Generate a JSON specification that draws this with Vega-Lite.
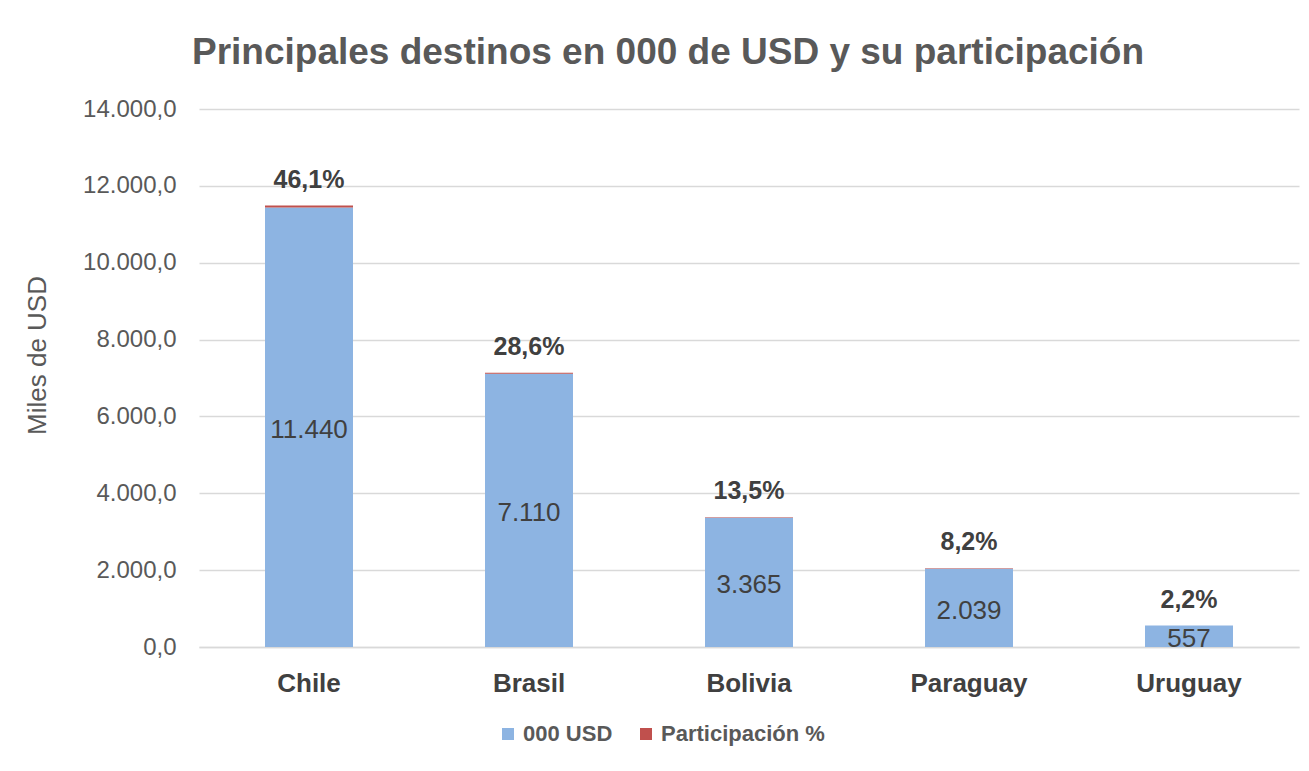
{
  "$schema": "https://vega.github.io/schema/vega-lite/v6.json",
  "width": 1100,
  "height": 538,
  "autosize": {"type": "none"},
  "padding": {"left": 199, "top": 109, "right": 10, "bottom": 124},
  "background": "white",
  "config": {
    "locale": {"number": {"decimal": ",", "thousands": ".", "grouping": [3], "currency": ["$", ""]}},
    "view": {"stroke": null},
    "font": "Liberation Sans"
  },
  "title": {
    "text": "Principales destinos en 000 de USD y su participación",
    "fontSize": 37,
    "fontWeight": "bold",
    "color": "#595959",
    "anchor": "middle",
    "dx": -81,
    "offset": 25
  },
  "data": {
    "values": [
      {"pais": "Chile", "serie": "000 USD", "valor": 11440},
      {"pais": "Chile", "serie": "Participación %", "valor": 46.1},
      {"pais": "Brasil", "serie": "000 USD", "valor": 7110},
      {"pais": "Brasil", "serie": "Participación %", "valor": 28.6},
      {"pais": "Bolivia", "serie": "000 USD", "valor": 3365},
      {"pais": "Bolivia", "serie": "Participación %", "valor": 13.5},
      {"pais": "Paraguay", "serie": "000 USD", "valor": 2039},
      {"pais": "Paraguay", "serie": "Participación %", "valor": 8.2},
      {"pais": "Uruguay", "serie": "000 USD", "valor": 557},
      {"pais": "Uruguay", "serie": "Participación %", "valor": 2.2}
    ]
  },
  "encoding": {
    "x": {
      "field": "pais",
      "type": "nominal",
      "sort": ["Chile", "Brasil", "Bolivia", "Paraguay", "Uruguay"],
      "scale": {"paddingInner": 0.6, "paddingOuter": 0.3},
      "axis": {
        "title": null,
        "labelAngle": 0,
        "labelFontSize": 26,
        "labelFontWeight": "bold",
        "labelColor": "#404040",
        "labelPadding": 23,
        "ticks": false,
        "tickSize": 0,
        "domainColor": "#d9d9d9",
        "domainWidth": 1.5
      }
    }
  },
  "layer": [
    {
      "mark": {"type": "bar"},
      "encoding": {
        "y": {
          "field": "valor",
          "type": "quantitative",
          "stack": "zero",
          "scale": {"domain": [0, 14000], "nice": false},
          "axis": {
            "title": "Miles de USD",
            "titleFontSize": 26,
            "titleFontWeight": "normal",
            "titleColor": "#595959",
            "titleX": -162,
            "titleY": 246,
            "titleAngle": -90,
            "titleBaseline": "middle",
            "titleAlign": "center",
            "values": [0, 2000, 4000, 6000, 8000, 10000, 12000, 14000],
            "format": ",.1f",
            "labelFontSize": 24,
            "labelColor": "#595959",
            "labelPadding": 23,
            "ticks": false,
            "tickSize": 0,
            "domain": false,
            "gridColor": "#d9d9d9",
            "gridWidth": 1.5
          }
        },
        "order": {"field": "serie", "type": "nominal", "sort": "ascending"},
        "color": {
          "field": "serie",
          "type": "nominal",
          "scale": {"domain": ["000 USD", "Participación %"], "range": ["#8DB4E2", "#C0504D"]},
          "legend": {
            "title": null,
            "orient": "none",
            "direction": "horizontal",
            "legendX": 298,
            "legendY": 614,
            "symbolType": "square",
            "symbolSize": 144,
            "symbolStrokeWidth": 0,
            "labelFontSize": 22,
            "labelFontWeight": "bold",
            "labelColor": "#595959",
            "labelLimit": 400,
            "columnPadding": 22,
            "labelOffset": 4
          }
        }
      }
    },
    {
      "transform": [{"filter": "datum.serie === '000 USD'"}],
      "mark": {"type": "text", "fontSize": 26, "color": "#404040", "baseline": "middle", "dy": 3},
      "encoding": {
        "y": {"field": "valor", "type": "quantitative", "scale": {"domain": [0, 28000], "nice": false}, "axis": null},
        "text": {"field": "valor", "type": "quantitative", "format": ",.0f"}
      }
    },
    {
      "mark": {
        "type": "text",
        "fontSize": 25,
        "fontWeight": "bold",
        "color": "#404040",
        "baseline": "alphabetic",
        "dy": -18,
        "text": {"expr": "datum.serie === 'Participación %' ? format(datum.valor, '.1f') + '%' : ''"}
      },
      "encoding": {
        "y": {"field": "valor", "type": "quantitative", "stack": "zero", "scale": {"domain": [0, 14000], "nice": false}, "axis": null},
        "order": {"field": "serie", "type": "nominal", "sort": "ascending"},
        "detail": {"field": "serie", "type": "nominal"}
      }
    }
  ],
  "resolve": {"scale": {"y": "independent"}}
}
